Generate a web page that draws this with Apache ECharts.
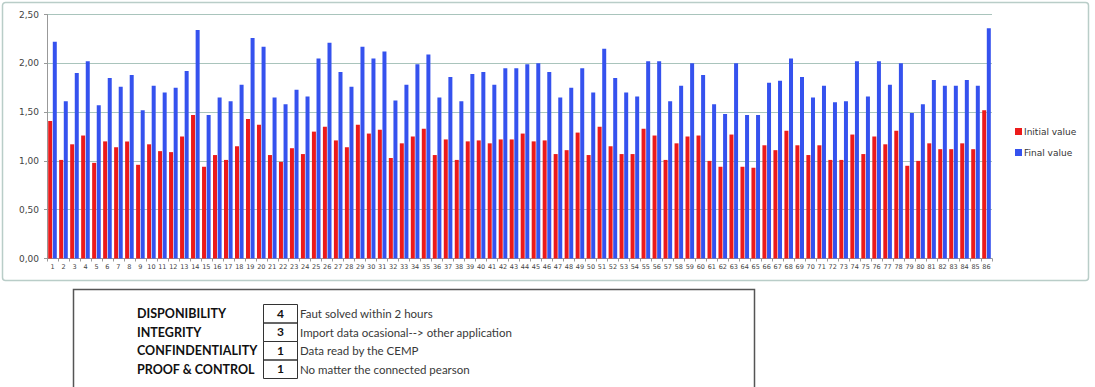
<!DOCTYPE html>
<html>
<head>
<meta charset="utf-8">
<script src="https://cdn.jsdelivr.net/npm/echarts@6/dist/echarts.min.js"></script>
<style>
html,body{margin:0;padding:0;background:#fff;}
#chart{width:1095px;height:387px;}
</style>
</head>
<body>
<div id="chart"></div>
<script>
const categories = Array.from({length: 86}, (_, i) => String(i + 1));
const initialValue = [1.41,1.01,1.17,1.26,0.98,1.20,1.14,1.20,0.96,1.17,1.10,1.09,
  1.25,1.47,0.94,1.06,1.01,1.15,1.43,1.37,1.06,0.99,1.13,1.07,1.30,
  1.35,1.21,1.14,1.37,1.28,1.32,1.03,1.18,1.25,1.33,1.06,1.22,1.01,
  1.20,1.21,1.18,1.22,1.22,1.28,1.20,1.21,1.07,1.11,1.29,1.06,1.35,
  1.15,1.07,1.07,1.33,1.26,1.01,1.18,1.25,1.26,1.00,0.94,1.27,
  0.94,0.93,1.16,1.11,1.31,1.16,1.06,1.16,1.01,1.01,1.27,1.07,1.25,
  1.17,1.31,0.95,1.00,1.18,1.12,1.12,1.18,1.12,1.52];
const finalValue = [2.22,1.61,1.90,2.02,1.57,1.85,1.76,1.88,1.52,1.77,1.70,1.75,
  1.92,2.34,1.47,1.65,1.61,1.78,2.26,2.17,1.65,1.58,1.73,1.66,2.05,
  2.21,1.91,1.76,2.17,2.05,2.12,1.62,1.78,1.99,2.09,1.65,1.86,1.61,
  1.89,1.91,1.78,1.95,1.95,1.99,2.00,1.91,1.65,1.75,1.95,1.70,2.15,
  1.85,1.70,1.66,2.02,2.02,1.61,1.77,2.00,1.88,1.58,1.48,2.00,
  1.47,1.47,1.80,1.82,2.05,1.86,1.65,1.77,1.60,1.61,2.02,1.66,2.02,
  1.78,2.00,1.49,1.58,1.83,1.77,1.77,1.83,1.77,2.36];
const seriesNames = ['Initial value', 'Final value'];
const yTicks = [0, 0.5, 1.0, 1.5, 2.0, 2.5];

const criteria = ['DISPONIBILITY', 'INTEGRITY', 'CONFINDENTIALITY', 'PROOF & CONTROL'];
const scores = ['4', '3', '1', '1'];
const notes = ['Faut solved within 2 hours', 'Import data ocasional--> other application',
  'Data read by the CEMP', 'No matter the connected pearson'];

const chart = echarts.init(document.getElementById('chart'), null, {renderer: 'svg'});

const graphics = [
  {type: 'rect', shape: {x: 2.5, y: 2.5, width: 1086, height: 278, r: 3}, z: -10,
   style: {fill: '#fff', stroke: '#b9cdc8', lineWidth: 1.5}},
  {type: 'rect', shape: {x: 73.5, y: 289.5, width: 681, height: 110}, z: -10,
   style: {fill: '#fff', stroke: '#555', lineWidth: 1.5}}
];
const rowTop = 304, rowH = 18.5;
criteria.forEach((c, i) => {
  const y0 = rowTop + i * rowH;
  graphics.push({type: 'text', left: 137, top: y0 + 3,
    style: {text: c, font: 'bold 12.5px Lato', fill: '#111'}});
  graphics.push({type: 'rect', shape: {x: 263.5, y: y0 + 0.5, width: 34, height: rowH},
    style: {fill: 'none', stroke: '#333', lineWidth: 1}});
  graphics.push({type: 'text', x: 280.5, y: y0 + 3,
    style: {text: scores[i], font: 'bold 12px Lato', fill: '#111', textAlign: 'center'}});
  graphics.push({type: 'text', left: 300, top: y0 + 3.5,
    style: {text: notes[i], font: '11.5px Lato', fill: '#383838'}});
});

chart.setOption({
  animation: false,
  backgroundColor: '#fff',
  graphic: graphics,
  grid: {left: 47, right: 103, top: 14.5, bottom: 128.5, containLabel: false},
  legend: {
    orient: 'vertical', left: 1010, top: 122, itemWidth: 7, itemHeight: 7, itemGap: 12,
    icon: 'rect',
    textStyle: {fontFamily: 'DejaVu Sans', fontSize: 9, color: '#333', padding: [0, 0, 0, -3]},
    data: seriesNames
  },
  xAxis: {
    type: 'category', data: categories,
    axisLine: {lineStyle: {color: '#999'}},
    axisTick: {show: true, interval: 0, lineStyle: {color: '#999'}, length: 3},
    axisLabel: {interval: 0, fontFamily: 'DejaVu Sans', fontSize: 6.5, color: '#444', margin: 5}
  },
  yAxis: {
    type: 'value', min: 0, max: 2.5, interval: 0.5,
    axisLine: {show: true, lineStyle: {color: '#999'}},
    axisTick: {show: true, length: 3, lineStyle: {color: '#999'}},
    splitLine: {lineStyle: {color: '#a9c4bc', width: 1}},
    axisLabel: {fontFamily: 'DejaVu Sans', fontSize: 9, color: '#444', margin: 8,
      formatter: v => yTicks.includes(v) ? v.toFixed(2).replace('.', ',') : ''}
  },
  series: [
    {name: seriesNames[0], type: 'bar', data: initialValue, barWidth: 4, barGap: '15%',
     itemStyle: {color: '#ec1b1b'}},
    {name: seriesNames[1], type: 'bar', data: finalValue, barWidth: 4,
     itemStyle: {color: '#3552ee'}}
  ]
});
</script>
</body>
</html>
